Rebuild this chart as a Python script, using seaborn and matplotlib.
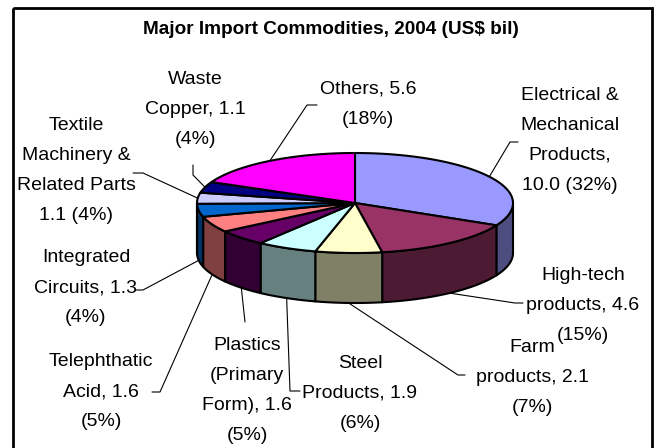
import numpy as np
import matplotlib.pyplot as plt
from matplotlib.patches import Polygon, Rectangle
import seaborn as sns

# --- data (US$ bil, clockwise from 12 o'clock) ---
label_fmt = [
    "Electrical &\nMechanical\nProducts,\n{v} ({p})",
    "High-tech\nproducts, {v}\n({p})",
    "Farm\nproducts, {v}\n({p})",
    "Steel\nProducts, {v}\n({p})",
    "Plastics\n(Primary\nForm), {v}\n({p})",
    "Telephthatic\nAcid, {v}\n({p})",
    "Integrated\nCircuits, {v}\n({p})",
    "Textile\nMachinery &\nRelated Parts\n{v} ({p})",
    "Waste\nCopper, {v}\n({p})",
    "Others, {v}\n({p})",
]
values = [10.0, 4.6, 2.1, 1.9, 1.6, 1.6, 1.3, 1.1, 1.1, 5.6]
top_colors = ["#9999FF", "#993366", "#FFFFCC", "#CCFFFF", "#660066",
              "#FF8080", "#0066CC", "#CCCCFF", "#000080", "#FF00FF"]
side_colors = ["#4D4D80", "#4D1A33", "#808066", "#668080", "#330033",
               "#804040", "#003366", "#666680", "#000040", "#800080"]

# --- layout (pixel coords) ---
CX, CY, RX, RY, DEPTH = 355, 203, 158, 50, 50
label_xy = [(570, 140), (583, 305), (532, 377), (360, 393), (247, 391),
            (101, 392), (86, 288), (76, 171), (195, 110), (368, 104)]
leader_pts = [
    [(510, 142), (518, 142)],
    [(515, 303), (523, 303)],
    [(458, 375), (465, 375)],
    [(290, 391), (300, 391)],
    [(245, 322)],
    [(160, 392), (152, 392)],
    [(143, 290), (136, 290)],
    [(143, 173), (133, 173)],
    [(193, 175), (193, 165)],
    [(307, 105), (317, 105)],
]

sns.set_theme(style="white")
plt.rcParams['font.family'] = ['Liberation Sans', 'DejaVu Sans']

fig = plt.figure(figsize=(6.58, 4.48), dpi=100)
ax = fig.add_axes([0, 0, 1, 1])
ax.set_xlim(0, 658)
ax.set_ylim(448, 0)
ax.axis('off')


def rim(theta, drop=0.0):
    t = np.radians(theta)
    return CX + RX * np.sin(t), CY - RY * np.cos(t) + drop


total = sum(values)
bounds = np.concatenate([[0], np.cumsum(values)]) / total * 360

# side walls (front half only)
for i in range(len(values)):
    t1, t2 = max(bounds[i], 90), min(bounds[i + 1], 270)
    if t1 >= t2:
        continue
    th = np.linspace(t1, t2, 60)
    xs, ys = rim(th)
    xb, yb = rim(th[::-1], DEPTH)
    pts = np.column_stack([np.concatenate([xs, xb]), np.concatenate([ys, yb])])
    ax.add_patch(Polygon(pts, closed=True, facecolor=side_colors[i],
                         edgecolor='black', lw=1.5, joinstyle='round'))

# top faces
for i in range(len(values)):
    th = np.linspace(bounds[i], bounds[i + 1], 80)
    xs, ys = rim(th)
    pts = np.column_stack([np.concatenate([[CX], xs]), np.concatenate([[CY], ys])])
    ax.add_patch(Polygon(pts, closed=True, facecolor=top_colors[i],
                         edgecolor='black', lw=1.5, joinstyle='round'))

# labels + leader lines
for i, v in enumerate(values):
    mid = (bounds[i] + bounds[i + 1]) / 2
    anchor = rim(mid, DEPTH) if 90 < mid < 270 else rim(mid)
    path = [anchor] + leader_pts[i]
    ax.plot([p[0] for p in path], [p[1] for p in path], color='black', lw=0.8)
    txt = label_fmt[i].format(v=f"{v:.1f}", p=f"{v / total:.0%}")
    ax.text(label_xy[i][0], label_xy[i][1], txt, ha='center', va='center',
            multialignment='center', fontsize=14, linespacing=2.0, color='black')

ax.text(331, 30, "Major Import Commodities, 2004 (US$ bil)", ha='center', va='center',
        fontsize=13.7, fontweight='bold', color='black')

# chart frame
ax.add_patch(Rectangle((13, 8), 639, 460, fill=False, edgecolor='black', lw=2))

fig.savefig("out.png", dpi=100)
